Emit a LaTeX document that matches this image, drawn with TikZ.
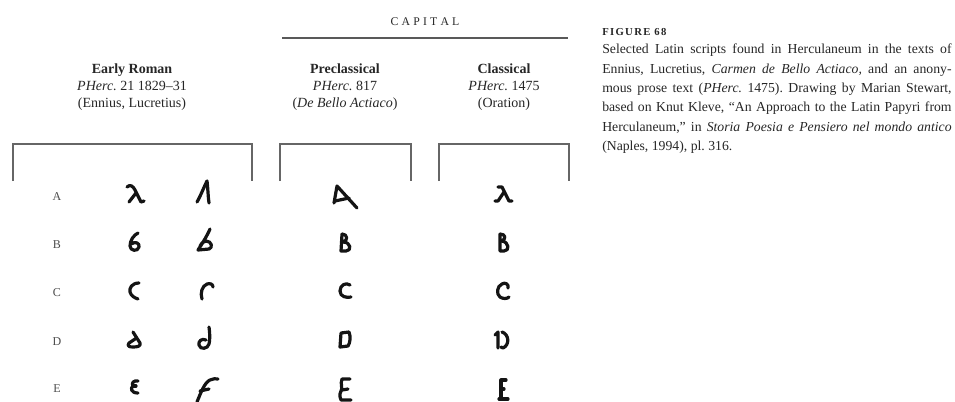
\documentclass[tikz,border=0pt]{standalone}
\usepackage{fontspec}
\setmainfont{Liberation Serif}
\begin{document}
\frenchspacing
\begin{tikzpicture}[x=0.75pt,y=-0.75pt,
  txt/.style={inner sep=0pt, text=black!85},
  head/.style={txt, align=center, font=\fontsize{10.5}{12.75}\selectfont},
  rule/.style={draw=black!65, line width=1.3pt},
  bracket/.style={draw=black!60, line width=0.9pt},
  rowlab/.style={txt, font=\fontsize{9}{10}\selectfont, text=black!70},
  pen/.style={line width=2.4pt, line cap=round, line join=round, draw=black!92},
  capt/.style={txt, text width=262pt, align=justify, font=\fontsize{10.3}{14.5}\selectfont}]
\useasboundingbox (0,0) rectangle (955,401);

% top heading
\node[txt, font=\fontsize{8.8}{10}\selectfont] (capital) at (425,22)
  {C\kern2.4pt A\kern2.4pt P\kern2.4pt I\kern2.4pt T\kern2.4pt A\kern2.4pt L};
\coordinate (capL) at (282,38);
\coordinate (capR) at (568,38);
\draw[rule] (capL) -- (capR);

% column headings
\node[head] (er) at (132,87) {\textbf{Early Roman}\\\textit{PHerc.} 21 1829–31\\(Ennius, Lucretius)};
\node[head] (pc) at (345,87) {\textbf{Preclassical}\\\textit{PHerc.} 817\\(\textit{De Bello Actiaco})};
\node[head] (cl) at (504,87) {\textbf{Classical}\\\textit{PHerc.} 1475\\(Oration)};

% brackets
\coordinate (b1bl) at (13,181);  \coordinate (b1tl) at (13,144);
\coordinate (b1tr) at (252,144); \coordinate (b1br) at (252,181);
\coordinate (b2bl) at (280,181); \coordinate (b2tl) at (280,144);
\coordinate (b2tr) at (411,144); \coordinate (b2br) at (411,181);
\coordinate (b3bl) at (439,181); \coordinate (b3tl) at (439,144);
\coordinate (b3tr) at (569,144); \coordinate (b3br) at (569,181);
\draw[bracket] (b1bl) -- (b1tl) -- (b1tr) -- (b1br);
\draw[bracket] (b2bl) -- (b2tl) -- (b2tr) -- (b2br);
\draw[bracket] (b3bl) -- (b3tl) -- (b3tr) -- (b3br);

% row labels
\node[rowlab] (la) at (57,197) {A};
\node[rowlab] (lb) at (57,245) {B};
\node[rowlab] (lc) at (57,293) {C};
\node[rowlab] (ld) at (57,342) {D};
\node[rowlab] (le) at (57,389) {E};

% ---- column 1 : Early Roman (a)
\begin{scope}[shift={(135,195)}]
\draw[pen] (-8,-8) .. controls (-5,-11) and (-2,-9) .. (0,-5) -- (6,7) -- (9,6);
\draw[pen] (1,-2) -- (-6,7);
\end{scope}
\begin{scope}[shift={(135,243)}]
\draw[pen] (3,-10) .. controls (-1,-8) and (-5,-3) .. (-5,3) .. controls (-5,8) and (3,9) .. (4,4) .. controls (5,0) and (0,-2) .. (-4,1);
\end{scope}
\begin{scope}[shift={(135,291)}]
\draw[pen] (4,-8) .. controls (-3,-8) and (-6,-3) .. (-5,1) .. controls (-4,5) and (0,7) .. (3,8);
\end{scope}
\begin{scope}[shift={(135,340)}]
\draw[pen] (-2,-8) -- (5,3) .. controls (6,6) and (3,7) .. (-2,7) .. controls (-6,7) and (-8,6) .. (-6,3) -- (0,-1);
\end{scope}
\begin{scope}[shift={(135,387)}]
\draw[pen] (3,-6) .. controls (-1,-7) and (-4,-4) .. (-2,-1) .. controls (-5,1) and (-4,6) .. (3,6);
\draw[pen] (-2,-1) -- (1,-1);
\end{scope}

% ---- column 2 : Early Roman (b)
\begin{scope}[shift={(205,193)}]
\draw[pen] (-8,9) .. controls (-5,4) and (-1,-6) .. (2,-12) .. controls (3,-4) and (3,3) .. (4,10);
\end{scope}
\begin{scope}[shift={(205,241)}]
\draw[pen] (5,-12) .. controls (2,-5) and (-3,3) .. (-7,9) -- (4,8) .. controls (8,7) and (7,0) .. (1,0) .. controls (-2,0) and (-4,3) .. (-5,5);
\end{scope}
\begin{scope}[shift={(205,290)}]
\draw[pen] (-3,9) .. controls (-5,3) and (-3,-4) .. (2,-6) .. controls (5,-7) and (8,-6) .. (8,-3);
\end{scope}
\begin{scope}[shift={(205,340)}]
\draw[pen] (4,-13) .. controls (5,-6) and (5,0) .. (4,4) .. controls (3,9) and (-5,10) .. (-6,5) .. controls (-7,1) and (-3,-2) .. (1,0);
\end{scope}
\begin{scope}[shift={(205,388)}]
\draw[pen] (-8,14) .. controls (-4,4) and (0,-6) .. (5,-8) .. controls (8,-9) and (11,-10) .. (13,-9);
\draw[pen] (-5,3) -- (4,1);
\end{scope}

% ---- column 3 : Preclassical
\begin{scope}[shift={(345,196)}]
\draw[pen] (-11,7) -- (-8,-10) -- (12,12);
\draw[pen] (-10,5) -- (4,2);
\end{scope}
\begin{scope}[shift={(345,243)}]
\draw[pen] (-3,-9) -- (-4,8) -- (1,8) .. controls (7,8) and (6,-1) .. (-2,-1) .. controls (3,-2) and (3,-9) .. (-3,-9);
\end{scope}
\begin{scope}[shift={(345,291)}]
\draw[pen] (5,-6) .. controls (1,-9) and (-5,-6) .. (-5,0) .. controls (-5,6) and (2,7) .. (6,6);
\end{scope}
\begin{scope}[shift={(345,340)}]
\draw[pen] (-4,-7) -- (4,-8) .. controls (6,-3) and (5,3) .. (3,6) -- (-5,7) -- (-4,-7);
\end{scope}
\begin{scope}[shift={(345,389)}]
\draw[pen] (5,-10) -- (-3,-10) .. controls (-5,-5) and (-2,-1) .. (-4,2) .. controls (-6,6) and (-5,9) .. (-4,11) -- (6,11);
\draw[pen] (-3,1) -- (3,0);
\end{scope}

% ---- column 4 : Classical
\begin{scope}[shift={(503,195)}]
\draw[pen] (-5,-8) -- (-1,-8) -- (6,6) -- (9,6);
\draw[pen] (1,-3) -- (-5,6) -- (-8,6);
\end{scope}
\begin{scope}[shift={(503,243)}]
\draw[pen] (-3,-9) -- (-3,8) -- (1,8) .. controls (7,8) and (6,-1) .. (-1,-2) .. controls (3,-4) and (3,-9) .. (-3,-9);
\end{scope}
\begin{scope}[shift={(503,291)}]
\draw[pen] (5,-3) .. controls (6,-7) and (2,-9) .. (-1,-7) .. controls (-6,-5) and (-7,3) .. (-3,6) .. controls (0,8) and (4,8) .. (6,6);
\end{scope}
\begin{scope}[shift={(503,340)}]
\draw[pen] (-8,-5) -- (-5,-8) -- (-5,8);
\draw[pen] (-1,-8) .. controls (6,-6) and (7,5) .. (0,8) -- (-2,7);
\end{scope}
\begin{scope}[shift={(503,389)}]
\draw[pen] (3,-9) -- (-2,-9) -- (-2,10);
\draw[pen] (-4,10) -- (5,10);
\draw[pen] (-2,0) -- (1,0);
\end{scope}

% ---- caption
\node[txt, anchor=west, font=\bfseries\fontsize{8}{9}\selectfont] (fig) at (602,32)
  {F\kern1pt I\kern1pt G\kern1pt U\kern1pt R\kern1pt E\kern1pt\ 6\kern1pt 8};
\node[capt, anchor=north west] (cap) at (602,44)
  {Selected Latin scripts found in Herculaneum in the texts of\linebreak
   Ennius, Lucretius, \textit{Carmen de Bello Actiaco,} and an anony-\linebreak
   mous prose text (\textit{PHerc.}~1475). Drawing by Marian Stewart,\linebreak
   based on Knut Kleve, “An Approach to the Latin Papyri from\linebreak
   Herculaneum,” in \textit{Storia Poesia e Pensiero nel mondo antico}\linebreak
   (Naples, 1994), pl.~316.};
\end{tikzpicture}
\end{document}
